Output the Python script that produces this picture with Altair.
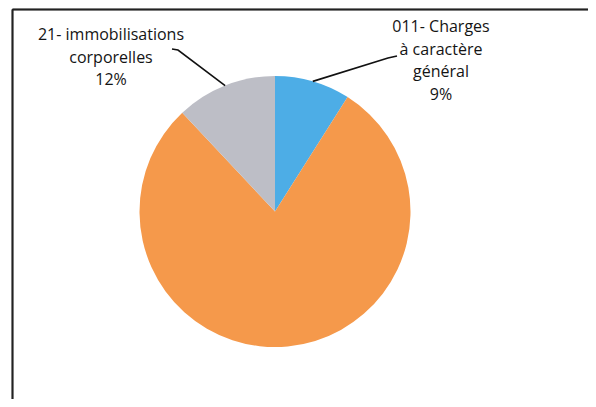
import math
import altair as alt
import pandas as pd

# ---- data ----
categories = ["011- Charges à caractère général", "012- Charges de personnel", "21- immobilisations corporelles"]
label_lines = [["011- Charges", "à caractère", "général"], None, ["21- immobilisations", "corporelles"]]
percents = [9, 79, 12]
colors = ["#4DADE6", "#F5994B", "#BDBEC6"]

# ---- layout ----
W, H = 580, 391
CX, CY, R = 267, 203.5, 135.5
# label anchor (text centre x, first baseline y) and elbow of the leader line
label_layout = {
    0: {"tx": 433, "ty": 24, "elbow": (380, 50), "end": (389, 48)},
    2: {"tx": 103, "ty": 32, "elbow": (170, 42), "end": (164, 41)},
}

df = pd.DataFrame({"cat": categories, "value": percents, "idx": range(len(categories))})

pie = alt.Chart(df).mark_arc(outerRadius=R, stroke=None).encode(
    theta=alt.Theta("value:Q", stack=True),
    color=alt.Color("cat:N", scale=alt.Scale(domain=categories, range=colors), legend=None),
    order=alt.Order("idx:Q"),
    x=alt.value(CX),
    y=alt.value(CY),
)

# labels and leader lines derived from slice mid-angles
total = sum(percents)
cum = 0
text_rows, line_rows = [], []
for i, (lines, p) in enumerate(zip(label_lines, percents)):
    mid = (cum + p / 2) / total * 2 * math.pi
    cum += p
    if lines is None:
        continue
    lay = label_layout[i]
    text_rows.append({"x": lay["tx"], "y": lay["ty"], "t": "|".join(lines + [f"{p}%"])})
    sx = CX + R * math.sin(mid)
    sy = CY - R * math.cos(mid)
    pts = [(sx, sy), lay["elbow"], lay["end"]]
    for k, (px, py) in enumerate(pts):
        line_rows.append({"x": px, "y": py, "k": k, "g": i})

texts = alt.Chart(pd.DataFrame(text_rows)).mark_text(
    font="Open Sans", fontSize=16, lineHeight=22.5, lineBreak="|",
    align="center", baseline="alphabetic", color="#141414"
).encode(
    x=alt.X("x:Q", scale=None),
    y=alt.Y("y:Q", scale=None),
    text="t:N",
)

leaders = alt.Chart(pd.DataFrame(line_rows)).mark_line(color="#111111", strokeWidth=1.6).encode(
    x=alt.X("x:Q", scale=None),
    y=alt.Y("y:Q", scale=None),
    order="k:Q",
    detail="g:N",
)

top_border = alt.Chart(df).mark_rule(color="#222222", strokeWidth=1.5).encode(
    x=alt.value(4.5), x2=alt.value(W), y=alt.value(1.5)
)
left_border = alt.Chart(df).mark_rule(color="#222222", strokeWidth=1.5).encode(
    x=alt.value(4.5), y=alt.value(1.5), y2=alt.value(H)
)

chart = alt.layer(pie, leaders, texts, top_border, left_border).properties(
    width=W, height=H, padding=0, autosize=alt.AutoSizeParams(type="none")
).configure_view(stroke=None)

chart.save("out.html", embed_options={"renderer": "svg", "actions": False})
